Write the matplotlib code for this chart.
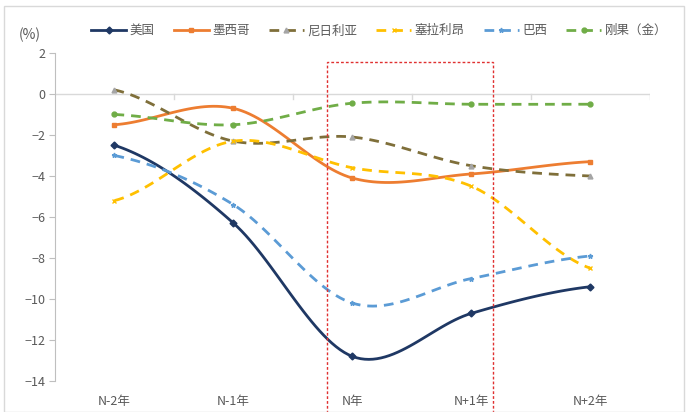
import matplotlib.pyplot as plt
import matplotlib.patches as patches
import numpy as np

plt.rcParams['font.family'] = ['Noto Sans CJK SC', 'DejaVu Sans']

years = ["N-2年", "N-1年", "N年", "N+1年", "N+2年"]
usa = [-2.5, -6.3, -12.8, -10.7, -9.4]
mexico = [-1.5, -0.7, -4.1, -3.9, -3.3]
nigeria = [0.2, -2.3, -2.1, -3.5, -4.0]
sierra_leone = [-5.2, -2.3, -3.6, -4.5, -8.5]
brazil = [-3.0, -5.4, -10.2, -9.0, -7.9]
drc = [-1.0, -1.5, -0.45, -0.5, -0.5]

# highlighted span (N year to N+1 year), in axis units
box_x = (1.79, 3.18)
box_top = 1.56


def smooth(x, y, n=30):
    # Catmull-Rom style smoothing through every point (like Excel's smoothed line)
    x = np.asarray(x, float)
    y = np.asarray(y, float)
    px = np.concatenate([[2 * x[0] - x[1]], x, [2 * x[-1] - x[-2]]])
    py = np.concatenate([[y[0]], y, [y[-1]]])
    xs, ys = [], []
    for i in range(1, len(px) - 2):
        p0, p1, p2, p3 = (np.array([px[j], py[j]]) for j in range(i - 1, i + 3))
        c1 = p1 + (p2 - p0) / 6
        c2 = p2 - (p3 - p1) / 6
        t = np.linspace(0, 1, n)[:, None]
        b = ((1 - t) ** 3) * p1 + 3 * ((1 - t) ** 2) * t * c1 + 3 * (1 - t) * t ** 2 * c2 + t ** 3 * p2
        xs.extend(b[:, 0])
        ys.extend(b[:, 1])
    return xs, ys


series = [
    ("美国", usa, "#1F3864", "-", "D", "#1F3864"),
    ("墨西哥", mexico, "#ED7D31", "-", "s", "#ED7D31"),
    ("尼日利亚", nigeria, "#7F6F3A", (0, (3.5, 2.5)), "^", "#A5A5A5"),
    ("塞拉利昂", sierra_leone, "#FFC000", (0, (3.5, 2.5)), "x", "#FFC000"),
    ("巴西", brazil, "#5B9BD5", (0, (3.5, 2.5)), "*", "#5B9BD5"),
    ("刚果（金）", drc, "#70AD47", (0, (3.5, 2.5)), "o", "#70AD47"),
]

fig = plt.figure(figsize=(6.87, 4.12), dpi=100)
ax = fig.add_axes([0.080, 0.0752, 0.866, 0.7962])

x = np.arange(len(years))
handles = []
for name, vals, color, ls, marker, mcolor in series:
    sx, sy = smooth(x, vals)
    ax.plot(sx, sy, color=color, linestyle=ls, linewidth=2, zorder=3)
    ax.plot(x, vals, linestyle="none", marker=marker, markersize=3.5,
            color=mcolor, markeredgecolor=mcolor, zorder=4)
    h, = ax.plot([], [], color=color, linestyle=ls, linewidth=2,
                 marker=marker, markersize=3.5, markerfacecolor=mcolor, markeredgecolor=mcolor)
    handles.append(h)

ax.set_xlim(-0.5, 4.5)
ax.set_ylim(-14, 2)
ax.set_yticks(range(-14, 3, 2))
ax.set_xticks(x)
ax.set_xticklabels(years)

for s in ["top", "right", "bottom"]:
    ax.spines[s].set_visible(False)
ax.spines["left"].set_color("#BFBFBF")
ax.tick_params(axis="y", colors="#BFBFBF", labelcolor="#595959", labelsize=9, length=4, pad=3)
ax.tick_params(axis="x", length=0, labelcolor="#595959", labelsize=9, pad=10)

# zero line with category separators
ax.axhline(0, color="#D9D9D9", linewidth=1, zorder=1)
for b in np.arange(0.5, 5, 1):
    ax.plot([b, b], [0, -0.25], color="#D9D9D9", linewidth=1, zorder=1)

rect = patches.Rectangle((box_x[0], -16), box_x[1] - box_x[0], box_top + 16,
                         fill=False, edgecolor="#E03030", linestyle=(0, (2, 1.5)),
                         linewidth=1, clip_on=False, zorder=5)
ax.add_patch(rect)

fig.text(0.027, 0.915, "(%)", fontsize=10, color="#595959", va="center")

ax.legend(handles, [s[0] for s in series], loc="center", ncol=6,
          bbox_to_anchor=(0.545, 1.068), frameon=False, fontsize=9,
          handlelength=2.8, handletextpad=0.3, columnspacing=1.5,
          labelcolor="#595959")

# outer chart border
fig.add_artist(patches.Rectangle((0.006, 0.0), 0.99, 0.985, transform=fig.transFigure,
                                 fill=False, edgecolor="#D9D9D9", linewidth=1))

fig.savefig("out.png", dpi=100)
